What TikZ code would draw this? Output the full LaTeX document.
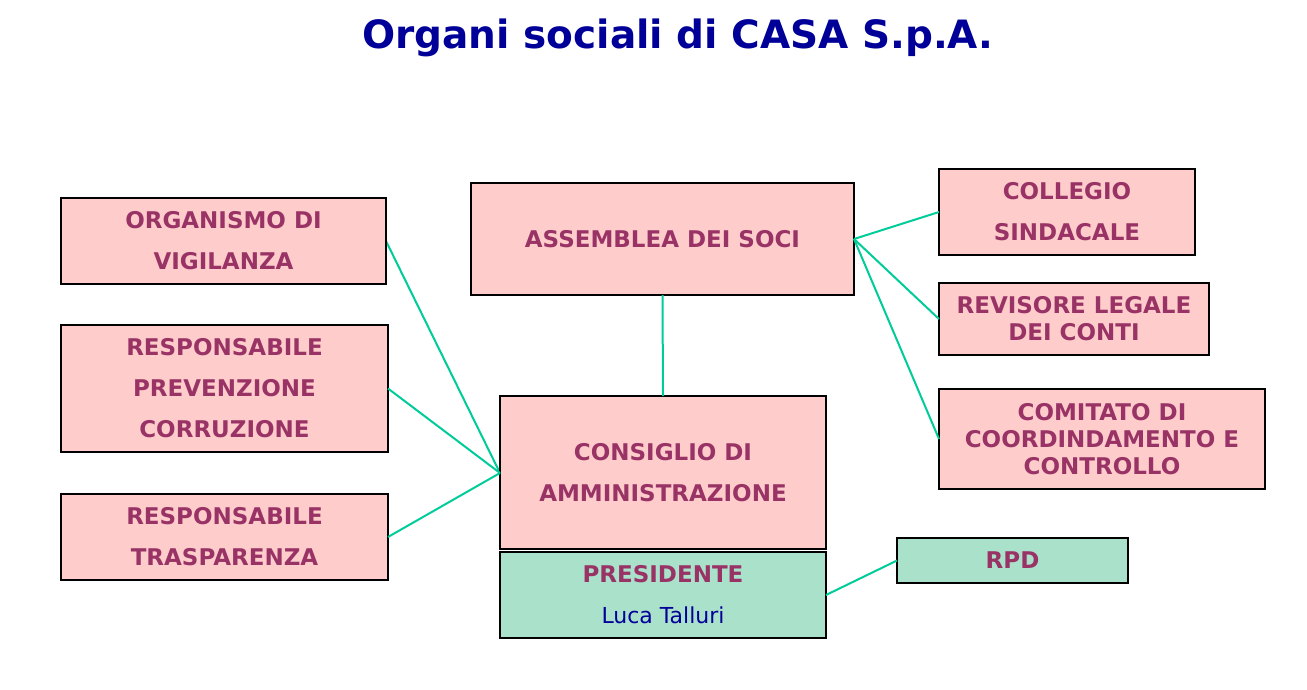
\documentclass[tikz,border=0pt]{standalone}
\usepackage{fontspec}
\setmainfont{DejaVu Sans}
\definecolor{pinkfill}{HTML}{FFCCCC}
\definecolor{greenfill}{HTML}{AAE1CB}
\definecolor{boxtext}{HTML}{993366}
\definecolor{titleblue}{HTML}{000099}
\definecolor{linkline}{HTML}{00CC99}
\tikzset{
  orgbox/.style={draw=black, line width=1.2pt, fill=pinkfill, rectangle, inner sep=0pt, outer sep=0pt,
    align=center, text=boxtext, font=\fontsize{23}{41}\selectfont\bfseries},
  tightbox/.style={orgbox, font=\fontsize{23}{27}\selectfont\bfseries},
  greenbox/.style={orgbox, fill=greenfill},
  link/.style={draw=linkline, line width=2pt}
}
\newcommand{\boxat}[6]{% name, x1, y1, x2, y2, style
  \node[#6, minimum width={(#4-#2)*1pt}, minimum height={(#5-#3)*1pt}] (#1) at ({(#2+#4)/2},{(#3+#5)/2})}
\begin{document}
\begin{tikzpicture}[x=1pt, y=-1pt]
\useasboundingbox (0,0) rectangle (1307,689);
\node[text=titleblue, font=\fontsize{39}{45}\selectfont\bfseries] (title) at (678,38) {Organi sociali di CASA S.p.A.};

\draw[link] (386,241) coordinate (odvR) -- (500,473) coordinate (cdaL);
\boxat{odv}{61}{198}{386}{284}{orgbox} {ORGANISMO DI\\VIGILANZA};
\boxat{rpc}{61}{325}{388}{452}{orgbox} {RESPONSABILE\\PREVENZIONE\\CORRUZIONE};
\boxat{rt}{61}{494}{388}{580}{orgbox} {RESPONSABILE\\TRASPARENZA};
\boxat{ass}{471}{183}{854}{295}{orgbox} {ASSEMBLEA DEI SOCI};
\boxat{cda}{500}{396}{826}{549}{orgbox} {CONSIGLIO DI\\AMMINISTRAZIONE};
\boxat{pres}{500}{552}{826}{638}{greenbox} {PRESIDENTE\\{\mdseries\color{titleblue}\fontsize{22}{41}\selectfont Luca Talluri}};
\boxat{cs}{939}{169}{1195}{255}{orgbox} {COLLEGIO\\SINDACALE};
\boxat{rev}{939}{283}{1209}{355}{tightbox} {REVISORE LEGALE\\DEI CONTI};
\boxat{com}{939}{389}{1265}{489}{tightbox} {COMITATO DI\\COORDINDAMENTO E\\CONTROLLO};
\boxat{rpd}{897}{538}{1128}{583}{greenbox} {RPD};

\coordinate (assR) at (854,239);
\draw[link] (rpc.east) -- (cdaL);
\draw[link] (rt.east) -- (cdaL);
\draw[link] (ass.south) -- (cda.north);
\draw[link] (assR) -- (cs.west);
\draw[link] (assR) -- (rev.west);
\draw[link] (assR) -- (com.west);
\draw[link] (pres.east) -- (rpd.west);
\end{tikzpicture}
\end{document}
